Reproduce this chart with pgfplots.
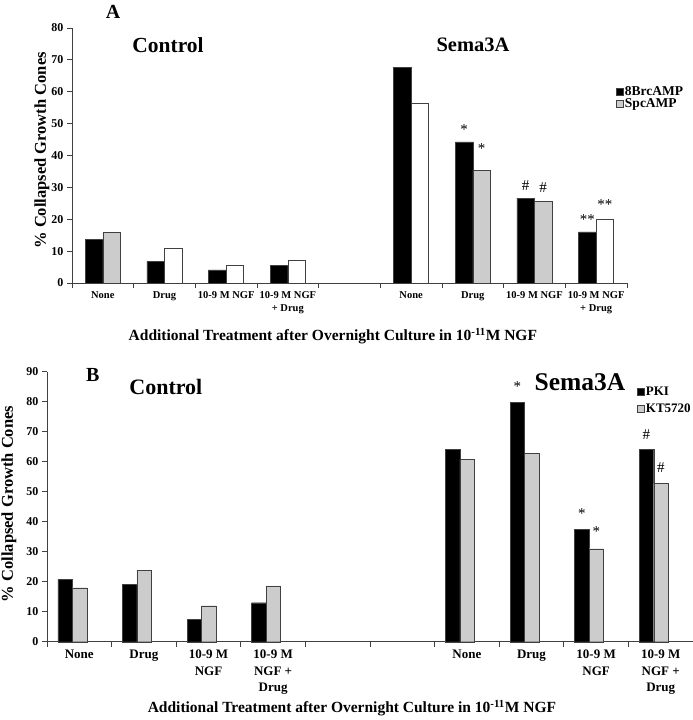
\documentclass[border=0pt]{standalone}
\usepackage{pgfplots}
\pgfplotsset{compat=1.18}
\usepackage{fontspec}
\setmainfont{Liberation Serif}

\definecolor{barline}{gray}{0.25}
\definecolor{lightbar}{gray}{0.8}

\pgfplotsset{
  sq legend/.style={legend image code/.code={\draw[##1] (0pt,-3.5pt) rectangle (7pt,3.5pt);}},
  panel/.style={
    scale only axis,
    anchor=south west,
    axis x line*=bottom, axis y line*=left,
    axis line style={barline, line width=0.8pt},
    tick style={barline, line width=0.8pt},
    tick align=outside,
    major tick length=5pt,
    ymin=0,
    /pgf/number format/assume math mode=true,
    xticklabel style={align=center},
    extra x tick style={major tick length=0pt},
    clip=false,
  },
}

\begin{document}
\begin{tikzpicture}

% ---------------- Panel A ----------------
\begin{axis}[
    panel,
    at={(72pt,437pt)},
    width=555pt, height=255pt,
    xmin=-0.5, xmax=8.5, ymax=80,
    ytick={0,10,...,80},
    yticklabel style={font=\bfseries\fontsize{12}{14}\selectfont},
    xtick={-0.5,0.5,...,8.5},
    xticklabels={},
    extra x ticks={0,1,2,3,5,6,7,8},
    extra x tick labels={None,Drug,10-9 M NGF,10-9 M NGF\\+ Drug,None,Drug,10-9 M NGF,10-9 M NGF\\+ Drug},
    xticklabel style={font=\bfseries\fontsize{10.5}{13}\selectfont, yshift=-5pt},
    legend style={at={(0.98,0.778)}, anchor=north west, draw=none, fill=none,
      font=\bfseries\fontsize{13.5}{15}\selectfont, row sep=-1pt, inner sep=0pt,
      nodes={inner sep=1.5pt}},
    legend cell align=left,
]
\addplot[ybar, bar width=17.5pt, bar shift=-8.75pt, fill=black, draw=barline, sq legend]
  coordinates {(0,13.8)(1,6.7)(2,4.1)(3,5.6)(5,67.6)(6,44.3)(7,26.6)(8,16.0)};
\addlegendentry{8BrcAMP}
\addplot[ybar, bar width=17.5pt, bar shift=8.75pt, fill=lightbar, draw=barline, sq legend]
  coordinates {(0,15.9)(6,35.3)(7,25.7)};
\addlegendentry{SpcAMP}
\addplot[ybar, bar width=17.5pt, bar shift=8.75pt, fill=white, draw=barline, forget plot]
  coordinates {(1,10.9)(2,5.6)(3,7.0)(5,56.3)(8,20.1)};

\begin{scope}[every node/.style={font=\fontsize{15}{15}\selectfont}]
\node at (axis cs:6,48.6) [xshift=-8.75pt, yshift=-1.5pt] {*};
\node at (axis cs:6,42.6) [xshift=8.75pt, yshift=-1.5pt] {*};
\node at (axis cs:7,30.7) [xshift=-8.75pt] {\#};
\node at (axis cs:7,29.9) [xshift=8.75pt] {\#};
\node at (axis cs:8,20.4) [xshift=-8.75pt, yshift=-1.5pt] {**};
\node at (axis cs:8,25.2) [xshift=8.75pt, yshift=-1.5pt] {**};
\end{scope}

\node[font=\bfseries\fontsize{20}{20}\selectfont] at (rel axis cs:0.074,1.063) {A};
\node[font=\bfseries\fontsize{21.5}{22}\selectfont] at (rel axis cs:0.173,0.933) {Control};
\node[font=\bfseries\fontsize{20.5}{21}\selectfont] at (rel axis cs:0.7225,0.933) {Sema3A};
\node[font=\bfseries\fontsize{16.5}{17}\selectfont, rotate=90] at (rel axis cs:-0.054,0.52) {\% Collapsed Growth Cones};
\node[font=\bfseries\fontsize{15.5}{16}\selectfont] at (rel axis cs:0.47,-0.208)
  {Additional Treatment after Overnight Culture in 10\textsuperscript{-11}M NGF};
\end{axis}

% ---------------- Panel B ----------------
\begin{axis}[
    panel,
    at={(47pt,78.3pt)},
    width=646pt, height=270pt,
    xmin=-0.5, xmax=9.5, ymax=90,
    ytick={0,10,...,90},
    yticklabel style={font=\bfseries\fontsize{12}{14}\selectfont},
    xtick={-0.5,0.5,...,9.5},
    xticklabels={},
    extra x ticks={0,1,2,3,6,7,8,9},
    extra x tick labels={None,Drug,10-9 M\\NGF,10-9 M\\NGF +\\Drug,None,Drug,10-9 M\\NGF,10-9 M\\NGF +\\Drug},
    xticklabel style={font=\bfseries\fontsize{13}{16.5}\selectfont, yshift=-5pt},
    legend style={at={(0.913,0.95)}, anchor=north west, draw=none, fill=none,
      font=\bfseries\fontsize{13}{15}\selectfont, row sep=4pt, inner sep=0pt,
      nodes={inner sep=1.5pt}},
    legend cell align=left,
]
\addplot[ybar, bar width=14.5pt, bar shift=-14.25pt, fill=black, draw=barline, sq legend]
  coordinates {(0,20.9)(1,19.1)(2,7.5)(3,13.0)(6,64.1)(7,79.7)(8,37.5)(9,64.1)};
\addlegendentry{PKI}
\addplot[ybar, bar width=14.5pt, bar shift=0.25pt, fill=lightbar, draw=barline, sq legend]
  coordinates {(0,18.0)(1,23.9)(2,12.0)(3,18.6)(6,60.8)(7,62.9)(8,31.0)(9,52.7)};
\addlegendentry{KT5720}

\begin{scope}[every node/.style={font=\fontsize{15}{15}\selectfont}]
\node at (axis cs:7,85.6) [xshift=-14.25pt, yshift=-1.5pt] {*};
\node at (axis cs:8,43.2) [xshift=-14.25pt, yshift=-1.5pt] {*};
\node at (axis cs:8,37.2) [xshift=0.25pt, yshift=-1.5pt] {*};
\node at (axis cs:9,68.9) [xshift=-14.25pt] {\#};
\node at (axis cs:9,57.9) [xshift=0.25pt] {\#};
\end{scope}

\node[font=\bfseries\fontsize{20}{20}\selectfont] at (rel axis cs:0.071,0.988) {B};
\node[font=\bfseries\fontsize{22}{22}\selectfont] at (rel axis cs:0.184,0.943) {Control};
\node[font=\bfseries\fontsize{25.5}{26}\selectfont] at (rel axis cs:0.825,0.962) {Sema3A};
\node[font=\bfseries\fontsize{16.5}{17}\selectfont, rotate=90] at (rel axis cs:-0.059,0.51) {\% Collapsed Growth Cones};
\node[font=\bfseries\fontsize{15.5}{16}\selectfont] at (rel axis cs:0.472,-0.246)
  {Additional Treatment after Overnight Culture in 10\textsuperscript{-11}M NGF};
\end{axis}

\pgfresetboundingbox
\path[use as bounding box] (0,0) rectangle (693pt,720pt);
\end{tikzpicture}
\end{document}
